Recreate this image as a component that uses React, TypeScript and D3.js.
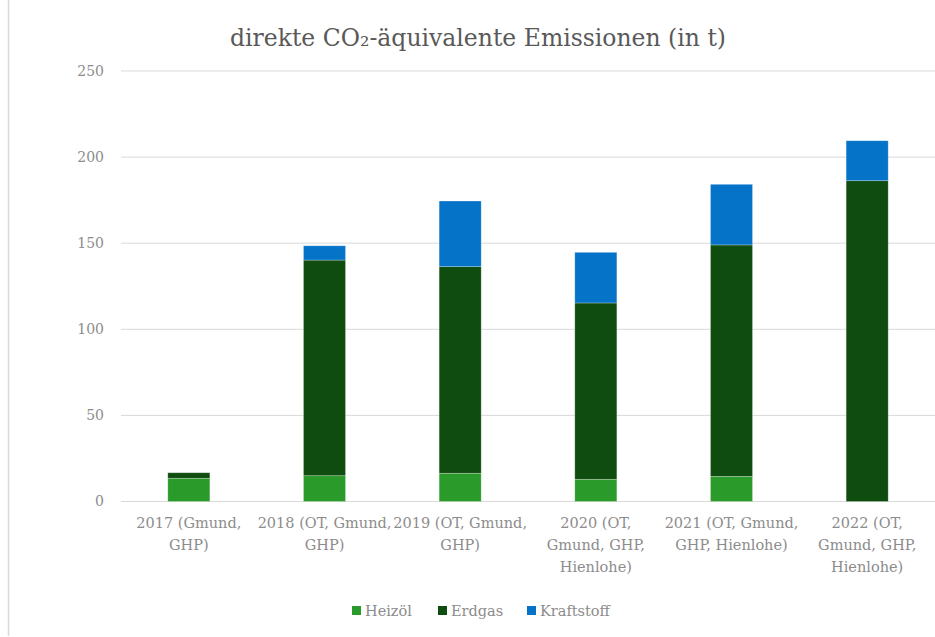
import React from "react";
import * as d3 from "d3";

const categories = [
  ["2017 (Gmund,", "GHP)"],
  ["2018 (OT, Gmund,", "GHP)"],
  ["2019 (OT, Gmund,", "GHP)"],
  ["2020 (OT,", "Gmund, GHP,", "Hienlohe)"],
  ["2021 (OT, Gmund,", "GHP, Hienlohe)"],
  ["2022 (OT,", "Gmund, GHP,", "Hienlohe)"],
];
const heizoel = [13.5, 15.0, 16.4, 12.9, 14.6, 0];
const erdgas = [3.2, 125.2, 120.0, 102.4, 134.4, 186.3];
const kraftstoff = [0, 8.3, 38.1, 29.4, 35.2, 23.2];
const seriesNames = ["Heizöl", "Erdgas", "Kraftstoff"];
const seriesColors = ["#2a9a2a", "#0f4c0f", "#0473c8"];
const yTicks = [0, 50, 100, 150, 200, 250];

const W = 935;
const H = 637;
const FONT = "'Roboto Slab', 'DejaVu Serif', serif";

export default function App() {
  const keys = categories.map((c) => c.join(" "));
  const x = d3.scaleBand<string>().domain(keys).range([121, 935]).paddingInner(0.69).paddingOuter(0.345);
  const y = d3.scaleLinear().domain([0, 250]).range([501.5, 71]);
  const rows = keys.map((k, i) => ({ key: k, Heizöl: heizoel[i], Erdgas: erdgas[i], Kraftstoff: kraftstoff[i] }));
  const stacked = d3.stack<any>().keys(seriesNames)(rows);

  const legendX = [352, 438, 527];

  return (
    <svg width={W} height={H} style={{ position: "absolute", left: 0, top: 0, background: "#fff" }} fontFamily={FONT}>
      <rect x={0} y={0} width={W} height={H} fill="#fff" />
      <line x1={8.5} x2={8.5} y1={0} y2={636} stroke="#d9d9d9" strokeWidth={1.5} />
      <text x={478} y={46} textAnchor="middle" fontSize={23.5} fill="#595959" fontWeight={300}>
        direkte CO₂-äquivalente Emissionen (in t)
      </text>
      {yTicks.map((t) => (
        <g key={t}>
          <line x1={121} x2={935} y1={y(t)} y2={y(t)} stroke="#d9d9d9" strokeWidth={1} />
          <text x={104} y={y(t)} dy="0.35em" textAnchor="end" fontSize={14} fill="#8c8c8c">
            {t}
          </text>
        </g>
      ))}
      {stacked.map((s, si) => (
        <g key={s.key} fill={seriesColors[si]}>
          {s.map((d, i) =>
            d[1] - d[0] > 0 ? (
              <rect
                key={i}
                x={x(keys[i])!}
                width={x.bandwidth()}
                y={y(d[1])}
                height={y(d[0]) - y(d[1])}
                stroke="rgba(255,255,255,0.35)"
                strokeWidth={0.75}
              />
            ) : null
          )}
        </g>
      ))}
      {categories.map((lines, i) => (
        <text key={i} textAnchor="middle" fontSize={14.5} fill="#8c8c8c">
          {lines.map((l, j) => (
            <tspan key={j} x={x(keys[i])! + x.bandwidth() / 2} y={528 + j * 22}>
              {l}
            </tspan>
          ))}
        </text>
      ))}
      {seriesNames.map((n, i) => (
        <g key={n}>
          <rect x={legendX[i]} y={606} width={9} height={9} fill={seriesColors[i]} />
          <text x={legendX[i] + 13} y={611} dy="0.35em" fontSize={14.5} fill="#8c8c8c">
            {n}
          </text>
        </g>
      ))}
    </svg>
  );
}
